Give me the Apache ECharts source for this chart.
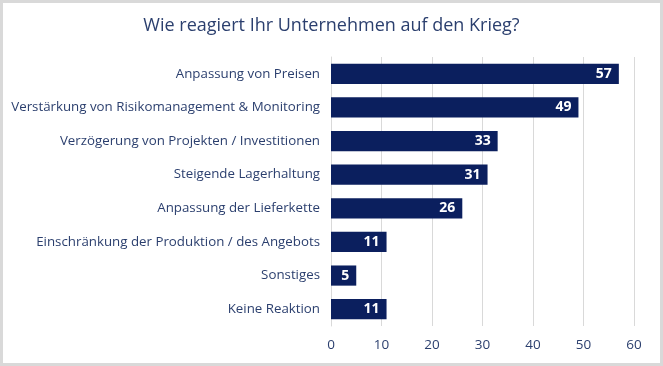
<!DOCTYPE html>
<html><head><meta charset="utf-8">
<script src="https://cdn.jsdelivr.net/npm/echarts@6/dist/echarts.min.js"></script>
<style>
html,body{margin:0;padding:0;background:#fff;}
#c{width:663px;height:366px;box-sizing:border-box;border:3px solid #d9d9d9;}
</style></head>
<body><div id="c"></div>
<script>
const categories = ["Anpassung von Preisen","Verstärkung von Risikomanagement & Monitoring","Verzögerung von Projekten / Investitionen","Steigende Lagerhaltung","Anpassung der Lieferkette","Einschränkung der Produktion / des Angebots","Sonstiges","Keine Reaktion"];
const values = [57,49,33,31,26,11,5,11];
const xTicks = {min:0,max:60,interval:10};
const title = "Wie reagiert Ihr Unternehmen auf den Krieg?";

const chart = echarts.init(document.getElementById('c'), null, {renderer:'canvas'});
const txt = '#2b3f6e';
chart.setOption({
  animation:false,
  title:{text:title,left:'center',top:9,textStyle:{color:'#2b3f6e',fontSize:18,fontWeight:'normal',fontFamily:'Open Sans'}},
  grid:{left:328,right:26,top:54,bottom:37,containLabel:false},
  xAxis:{type:'value',min:xTicks.min,max:xTicks.max,interval:xTicks.interval,
    axisLine:{show:false},axisTick:{show:false},
    axisLabel:{color:txt,fontSize:13.5,fontFamily:'Open Sans',margin:12},
    splitLine:{lineStyle:{color:'#d9d9d9',width:1}}},
  yAxis:{type:'category',data:categories,inverse:true,
    axisLine:{show:true,lineStyle:{color:'#d9d9d9'}},axisTick:{show:false},
    axisLabel:{color:txt,fontSize:13.3,fontFamily:'Open Sans',margin:11}},
  series:[{type:'bar',data:values,barWidth:'60%',
    itemStyle:{color:'#0b1f5e'},
    label:{show:true,position:'insideRight',color:'#fff',fontWeight:'bold',fontSize:14,fontFamily:'Open Sans',offset:[-2,0]}}]
});
</script></body></html>
